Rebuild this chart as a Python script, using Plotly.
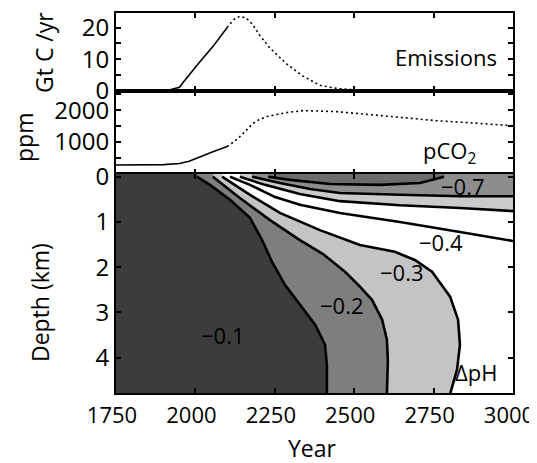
import plotly.graph_objects as go

# ---------------- data ----------------
# Emissions (Gt C / yr)
emis_years_hist = [1750, 1880, 1920, 1950, 1960, 1975, 2000, 2014, 2055, 2100]
emis_hist = [0, 0.1, 0.4, 1.2, 2.5, 4.5, 7.5, 9.2, 14, 20]
emis_years_proj = [2100, 2120, 2140, 2160, 2180, 2203, 2235, 2260, 2288, 2339, 2392, 2446, 2496]
emis_proj = [20, 22.5, 23.6, 23.0, 21.0, 17.5, 13.5, 11.0, 8.5, 4.7, 1.8, 0.8, 0.4]

# Atmospheric pCO2 (ppm)
pco2_years_hist = [1750, 1900, 1950, 1980, 2014, 2055, 2100]
pco2_hist = [280, 295, 330, 400, 530, 700, 860]
pco2_years_proj = [2100, 2120, 2140, 2160, 2181, 2200, 2225, 2260, 2288, 2339, 2400,
                   2446, 2500, 2550, 2654, 2760, 2865, 3000]
pco2_proj = [860, 1000, 1170, 1380, 1580, 1700, 1800, 1870, 1925, 1985, 1975,
             1955, 1905, 1860, 1770, 1670, 1605, 1510]

# Delta pH contour lines: (year, depth km)
c01_years = [2005, 2046, 2109, 2172, 2210, 2241, 2282, 2329, 2377, 2408, 2414, 2414]
c01_depth = [0, 0.18, 0.51, 0.91, 1.40, 1.88, 2.39, 2.83, 3.27, 3.71, 4.16, 4.8]
c02_years = [2055, 2140, 2235, 2329, 2402, 2471, 2518, 2556, 2588, 2603, 2606, 2603]
c02_depth = [0, 0.47, 0.96, 1.40, 1.71, 2.10, 2.43, 2.72, 3.16, 3.60, 4.05, 4.8]
c03_years = [2084, 2172, 2266, 2392, 2518, 2628, 2691, 2745, 2802, 2827, 2833, 2824, 2802]
c03_depth = [0, 0.40, 0.80, 1.18, 1.51, 1.66, 1.84, 2.10, 2.65, 3.16, 3.71, 4.26, 4.8]
c04_years = [2109, 2172, 2251, 2329, 2455, 2644, 2833, 3000]
c04_depth = [0, 0.18, 0.45, 0.62, 0.80, 1.00, 1.22, 1.42]
c05_years = [2140, 2219, 2329, 2455, 2644, 2833, 3000]
c05_depth = [0, 0.18, 0.38, 0.54, 0.63, 0.69, 0.76]
c06_years = [2178, 2266, 2361, 2455, 2644, 2833, 3000]
c06_depth = [0, 0.14, 0.27, 0.36, 0.40, 0.43, 0.43]
c07_years = [2229, 2298, 2424, 2581, 2707, 2770, 2783]
c07_depth = [0, 0.07, 0.16, 0.18, 0.14, 0.03, 0]

contour_labels = ["−0.7", "−0.4", "−0.3", "−0.2", "−0.1", "ΔpH"]
label_years = [2843, 2773, 2650, 2462, 2087, 2883]
label_depths = [0.21, 1.44, 2.10, 2.83, 3.49, 4.31]

x_ticks = [1750, 2000, 2250, 2500, 2750, 3000]

# ---------------- styling ----------------
FONT = "Open Sans"
X_RANGE = [1750, 3000]
DEPTH_TOP, DEPTH_BOT = -0.06, 4.78
C_DARK, C_MID, C_LIGHT, C_WHITE = "#3c3c3c", "#7e7e7e", "#c4c4c4", "#ffffff"
C_BAND_LIGHT, C_BAND_MID, C_TONGUE = "#cbcbcb", "#8d8d8d", "#6c6c6c"
XL, XR = 1700, 3100  # polygon extents beyond the axis range (clipped)
PAGE_OFFSET = 8      # default body margin of the html page

fig = go.Figure()

# Emissions panel
fig.add_trace(go.Scatter(x=emis_years_hist, y=emis_hist, mode="lines",
                         line=dict(color="black", width=1.6), xaxis="x", yaxis="y"))
fig.add_trace(go.Scatter(x=emis_years_proj, y=emis_proj, mode="lines",
                         line=dict(color="black", width=1.6, dash="2px,3px"), xaxis="x", yaxis="y"))
# pCO2 panel
fig.add_trace(go.Scatter(x=pco2_years_hist, y=pco2_hist, mode="lines",
                         line=dict(color="black", width=1.6), xaxis="x2", yaxis="y2"))
fig.add_trace(go.Scatter(x=pco2_years_proj, y=pco2_proj, mode="lines",
                         line=dict(color="black", width=1.6, dash="2px,3px"), xaxis="x2", yaxis="y2"))

TOPX = DEPTH_TOP - 0.1
BOTX = DEPTH_BOT + 0.1


def poly_right(yrs, dps):
    xs = [yrs[0]] + list(yrs) + [XR, XR]
    ys = [TOPX] + list(dps) + [BOTX, TOPX]
    return xs, ys


def poly_above(yrs, dps):
    xs = [yrs[0]] + list(yrs) + [XR, XR]
    ys = [TOPX] + list(dps) + [dps[-1], TOPX]
    return xs, ys


def add_fill(xs, ys, color):
    fig.add_trace(go.Scatter(x=xs, y=ys, mode="lines", fill="toself", fillcolor=color,
                             line=dict(width=0), xaxis="x3", yaxis="y3", hoverinfo="skip"))


add_fill([XL, XR, XR, XL], [TOPX, TOPX, BOTX, BOTX], C_DARK)
add_fill(*poly_right(c01_years, c01_depth), C_MID)
add_fill(*poly_right(c02_years, c02_depth), C_LIGHT)
add_fill(*poly_right(c03_years, c03_depth), C_WHITE)
add_fill(*poly_above(c05_years, c05_depth), C_BAND_LIGHT)
add_fill(*poly_above(c06_years, c06_depth), C_BAND_MID)
add_fill(list(c07_years) + [c07_years[-1], c07_years[0]],
         list(c07_depth) + [TOPX, TOPX], C_TONGUE)

for yrs, dps in [(c01_years, c01_depth), (c02_years, c02_depth), (c03_years, c03_depth),
                 (c04_years, c04_depth), (c05_years, c05_depth), (c06_years, c06_depth),
                 (c07_years, c07_depth)]:
    fig.add_trace(go.Scatter(x=yrs, y=dps, mode="lines", line=dict(color="black", width=2.6),
                             xaxis="x3", yaxis="y3", hoverinfo="skip"))

for t, xv, yv in zip(contour_labels, label_years, label_depths):
    fig.add_annotation(x=xv, y=yv, xref="x3", yref="y3", text=t, showarrow=False,
                       xanchor="center", yanchor="middle",
                       font=dict(family=FONT, size=22, color="black"))

axis_common = dict(showline=True, linecolor="black", linewidth=2, mirror="ticks",
                   ticks="inside", ticklen=5, tickwidth=1.5, tickcolor="black",
                   showgrid=False, zeroline=False, automargin=False,
                   autorange=False, fixedrange=True, ticklabeloverflow="allow")
xfont = dict(family=FONT, size=22, color="black")
yfont = dict(family=FONT, size=24, color="black")

d_depth = [0, 0.5763]
d_pco2 = [0.5763, 0.7947]
d_emis = [0.7947, 1.0]

FIG_W = 537 - PAGE_OFFSET
FIG_H = 463 - PAGE_OFFSET

fig.update_layout(
    width=FIG_W, height=FIG_H, showlegend=False, autosize=False,
    margin=dict(l=116 - PAGE_OFFSET, r=24, t=13 - PAGE_OFFSET,
                b=FIG_H - (393 - PAGE_OFFSET), autoexpand=False),
    paper_bgcolor="white", plot_bgcolor="white",
    xaxis=dict(axis_common, domain=[0, 1], range=X_RANGE, tickvals=x_ticks,
               showticklabels=False, anchor="y"),
    yaxis=dict(axis_common, domain=d_emis, range=[0, 24.6], tickvals=[0, 5, 10, 15, 20],
               ticktext=["0", " ", "10", " ", "20"], anchor="x", ticklabelstandoff=0,
               tickfont=yfont),
    xaxis2=dict(axis_common, domain=[0, 1], range=X_RANGE, tickvals=x_ticks,
                showticklabels=False, anchor="y2"),
    yaxis2=dict(axis_common, domain=d_pco2, range=[0, 2600],
                tickvals=[0, 500, 1000, 1500, 2000, 2500],
                ticktext=[" ", " ", "1000", " ", "2000", " "], anchor="x2", ticklabelstandoff=0,
                tickfont=yfont),
    xaxis3=dict(axis_common, domain=[0, 1], range=X_RANGE, tickvals=x_ticks,
                anchor="y3", ticklabelstandoff=2, ticklabelshift=-4, tickfont=xfont),
    yaxis3=dict(axis_common, domain=d_depth, range=[DEPTH_BOT, DEPTH_TOP],
                tickvals=[0, 1, 2, 3, 4], anchor="x3", ticklabelstandoff=0, tickfont=yfont),
)


def paper_note(text, px, py, size, angle=0):
    fig.add_annotation(x=(px - 116) / 397, y=(393 - py) / 380, xref="paper", yref="paper",
                       text=text, showarrow=False, textangle=angle,
                       xanchor="center", yanchor="middle",
                       font=dict(family=FONT, size=size, color="black"))


paper_note("Gt C /yr", 44, 53, 23, -90)
paper_note("ppm", 24, 138, 23, -90)
paper_note("Depth (km)", 40, 303, 23, -90)
paper_note("Year", 312, 448, 23)
paper_note("Emissions", 446, 57, 22)
paper_note("pCO<sub>2</sub>", 449, 152, 22)

fig.write_html("out.html")
